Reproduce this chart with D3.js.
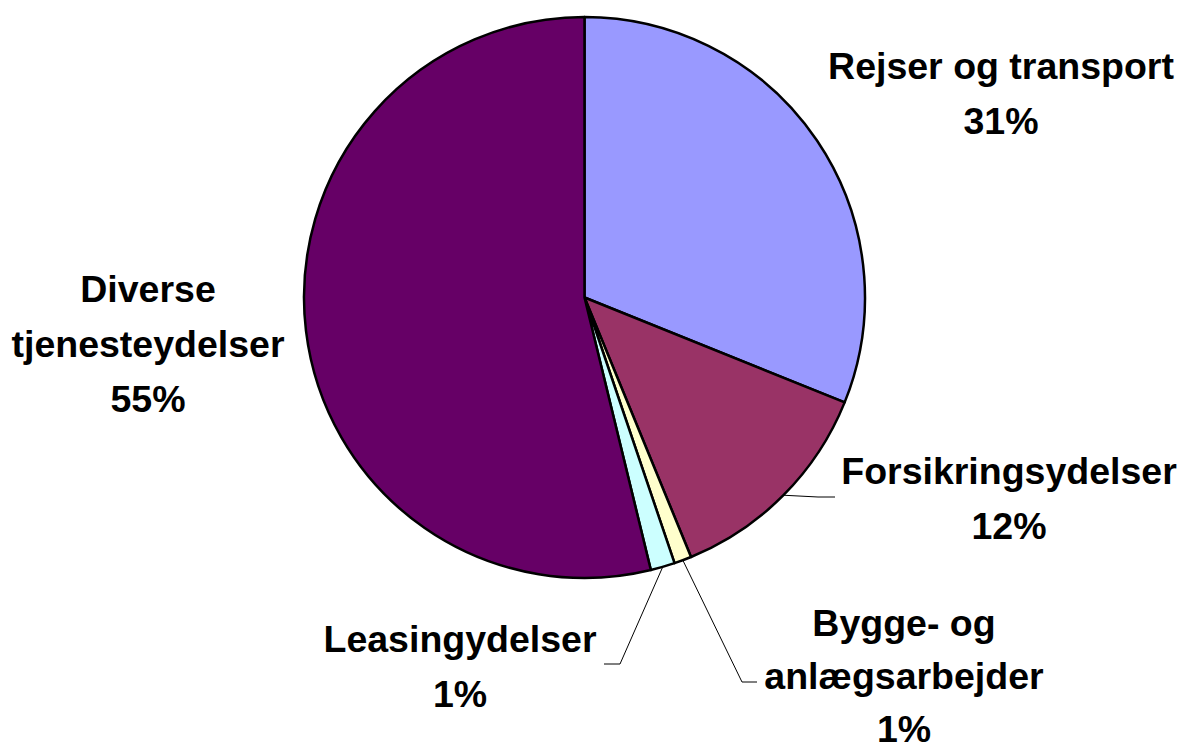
<!DOCTYPE html>
<html>
<head>
<meta charset="utf-8">
<script src="https://cdn.jsdelivr.net/npm/d3@7"></script>
<style>
  body { margin: 0; background: #fff; }
  svg { display: block; }
</style>
</head>
<body>
<div id="chart"></div>
<script>
// chart data
var categories = ["Rejser og transport", "Forsikringsydelser", "Bygge- og anlægsarbejder", "Leasingydelser", "Diverse tjenesteydelser"];
var values = [31.1, 12.7, 1.0, 1.4, 53.8];
var pctLabels = ["31%", "12%", "1%", "1%", "55%"];
var colors = ["#9999FF", "#993366", "#FFFFCC", "#CCFFFF", "#660066"];

// label text lines (as wrapped in the original)
var labelLines = [
    ["Rejser og transport"],
    ["Forsikringsydelser"],
    ["Bygge- og", "anlægsarbejder"],
    ["Leasingydelser"],
    ["Diverse", "tjenesteydelser"]
];

var width = 1190, height = 751;
var cx = 584.5, cy = 297.5, radius = 280.5;
var lineHeights = [55, 55, 53, 55, 55];

// label placement relative to pie centre (first baseline)
var labelPos = [
    [416.5, -218.5],
    [424.5, 186.5],
    [319.5, 338.5],
    [-124.5, 354.5],
    [-436.5, 4.5]
];
// leader lines: elbow + end, relative to pie centre (null = no leader)
var leaders = [
    null,
    [[233.5, 199.5], [250.5, 199.5]],
    [[157.5, 384.5], [172.5, 384.5]],
    [[35.5, 366.5], [19.5, 366.5]],
    null
];

var svg = d3.select("#chart")
    .append("svg")
    .attr("width", width)
    .attr("height", height);

var g = svg.append("g")
    .attr("transform", "translate(" + cx + "," + cy + ")");

var pie = d3.pie()
    .sort(null)
    .value(function(d) { return d; });

var arcs = pie(values);

var arc = d3.arc()
    .innerRadius(0)
    .outerRadius(radius);

// Render the slices
g.selectAll("path.slice")
    .data(arcs)
    .enter()
    .append("path")
    .attr("class", "slice")
    .attr("d", arc)
    .attr("fill", function(d, i) { return colors[i]; })
    .attr("stroke", "#000")
    .attr("stroke-width", 2.5)
    .attr("stroke-linejoin", "round");

// Leader lines from slice edge to label
g.selectAll("polyline.leader")
    .data(arcs.filter(function(d, i) { return leaders[i]; }))
    .enter()
    .append("polyline")
    .attr("class", "leader")
    .attr("points", function(d) {
        var a = (d.startAngle + d.endAngle) / 2;
        var start = [radius * Math.sin(a), -radius * Math.cos(a)];
        var pts = [start].concat(leaders[d.index]);
        return pts.map(function(p) { return p.join(","); }).join(" ");
    })
    .attr("fill", "none")
    .attr("stroke", "#000")
    .attr("stroke-width", 1);

// Labels
var labels = g.selectAll("text.label")
    .data(arcs)
    .enter()
    .append("text")
    .attr("class", "label")
    .attr("text-anchor", "middle")
    .attr("font-family", "'Liberation Sans', Arial, sans-serif")
    .attr("font-size", "37.5px")
    .attr("font-weight", "bold")
    .attr("fill", "#000");

labels.each(function(d, i) {
    var lines = labelLines[i].concat([pctLabels[i]]);
    var t = d3.select(this);
    lines.forEach(function(line, j) {
        t.append("tspan")
            .attr("x", labelPos[i][0])
            .attr("y", labelPos[i][1] + j * lineHeights[i])
            .text(line);
    });
});
</script>
</body>
</html>
